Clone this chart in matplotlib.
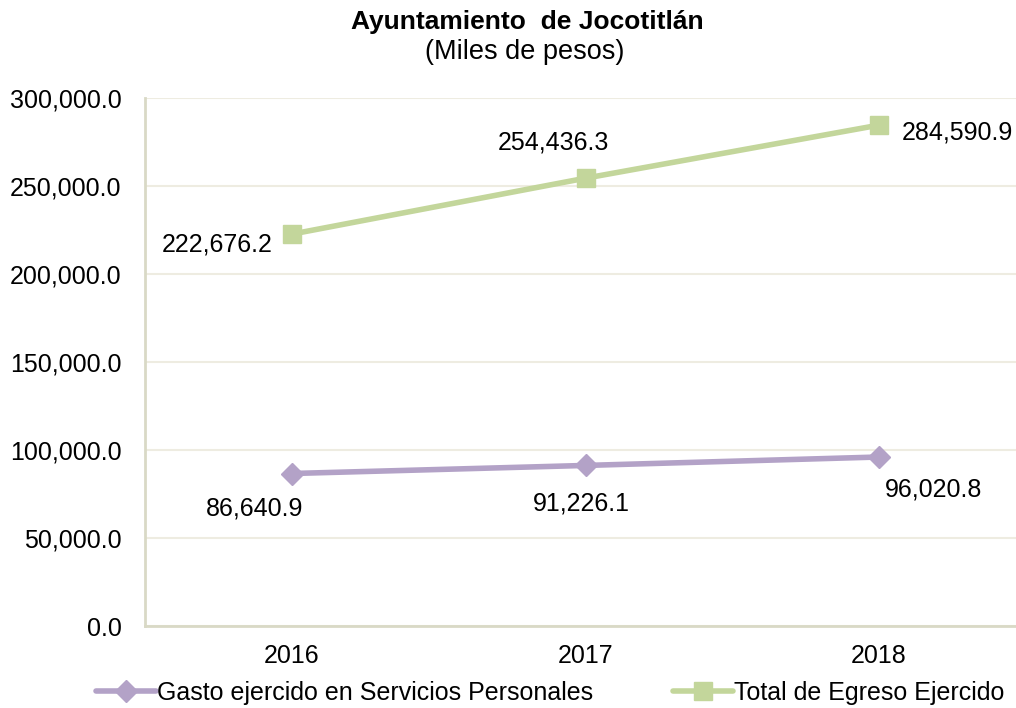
import matplotlib
matplotlib.use("Agg")
import matplotlib.pyplot as plt
from matplotlib.ticker import FuncFormatter

years = ["2016", "2017", "2018"]
gasto = [86640.9, 91226.1, 96020.8]
total = [222676.2, 254436.3, 284590.9]
yticks = [0, 50000, 100000, 150000, 200000, 250000, 300000]

plt.rcParams['font.family'] = ['Liberation Sans', 'DejaVu Sans']

fig = plt.figure(figsize=(10.16, 7.08), dpi=100)
ax = fig.add_axes([145.25/1016, 1-626/708, 880.5/1016, 528/708])

x = list(range(len(years)))
purple = '#B3A2C7'
green = '#C3D69B'
l1, = ax.plot(x, gasto, color=purple, lw=4, marker='D', ms=11, mec=purple, mfc=purple,
              label='Gasto ejercido en Servicios Personales', solid_capstyle='round')
l2, = ax.plot(x, total, color=green, lw=4, marker='s', ms=13, mec=green, mfc=green,
              label='Total de Egreso Ejercido', solid_capstyle='round')

ax.set_xlim(-0.5, 2.5)
ax.set_ylim(0, 300000)
ax.set_xticks(x)
ax.set_xticklabels(years)
ax.set_yticks(yticks)
ax.yaxis.set_major_formatter(FuncFormatter(lambda v, p: f"{v:,.1f}"))
ax.tick_params(axis='both', length=0, labelsize=18)
ax.tick_params(axis='y', pad=17)
ax.tick_params(axis='x', pad=13)
ax.grid(axis='y', color='#EEECE1', lw=1.5)
ax.set_axisbelow(True)
for s in ['top', 'right']:
    ax.spines[s].set_visible(False)
ax.spines['left'].set_color('#D9D9C6')
ax.spines['left'].set_linewidth(2)
ax.spines['bottom'].set_color('#D9D9C6')
ax.spines['bottom'].set_linewidth(2)

offs_g = [(-37, -35), (-4, -38), (55, -32)]
offs_t = [(-75, -10), (-32, 36), (78, -7)]
for i in range(3):
    ax.annotate(f"{gasto[i]:,.1f}", (x[i], gasto[i]), xytext=offs_g[i], textcoords='offset pixels',
                ha='center', va='center', fontsize=18)
    ax.annotate(f"{total[i]:,.1f}", (x[i], total[i]), xytext=offs_t[i], textcoords='offset pixels',
                ha='center', va='center', fontsize=18, annotation_clip=False)

fig.text(527/1016, 1-22/708, "Ayuntamiento  de Jocotitlán", ha='center', va='center',
         fontsize=19, fontweight='bold')
fig.text(525/1016, 1-52/708, "(Miles de pesos)", ha='center', va='center', fontsize=19.5)

fig.legend(handles=[l1, l2], loc='center', bbox_to_anchor=(550/1016, 1-693/708), ncol=2,
           frameon=False, fontsize=18, handlelength=2.4, handletextpad=0.05, columnspacing=3.2,
           borderaxespad=0, borderpad=0)

fig.savefig("out.png", dpi=100)
